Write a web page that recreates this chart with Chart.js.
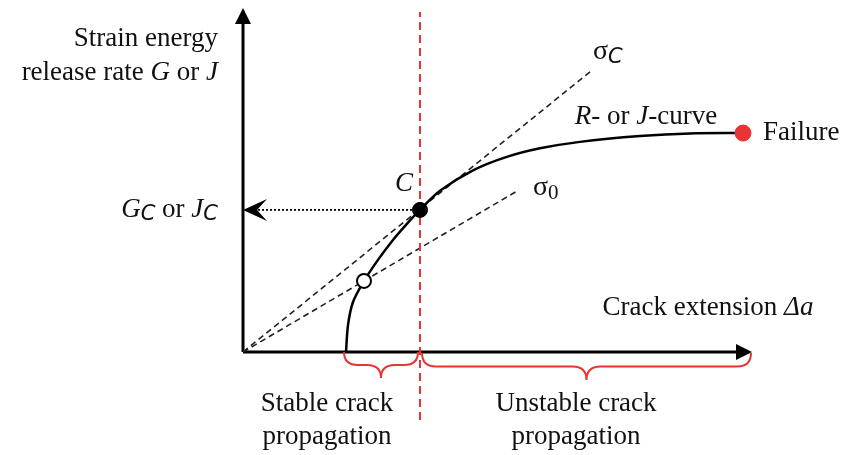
<!DOCTYPE html>
<html>
<head>
<meta charset="utf-8">
<script src="https://cdn.jsdelivr.net/npm/chart.js@4"></script>
<style>
html, body { margin: 0; padding: 0; background: #fff; }
#wrap { width: 846px; height: 455px; }
</style>
</head>
<body>
<div id="wrap"><canvas id="crackChart"></canvas></div>
<script>
// R-curve: crack extension (x) vs. G or J (y), arbitrary units
const curveX = [2.06, 2.10, 2.20, 2.42, 2.70, 2.98, 3.26, 3.54, 3.94, 4.60, 5.26, 5.94, 6.74, 7.94, 8.94, 10.0];
const curveY = [0, 0.79, 1.47, 2.09, 2.71, 3.26, 3.74, 4.18, 4.74, 5.34, 5.73, 5.99, 6.18, 6.35, 6.43, 6.44];

// special points
const critPoint = [3.54, 4.18];     // C
const startPoint = [2.42, 2.09];    // open circle on sigma_0 line
const failPoint = [10.0, 6.44];     // Failure

// load lines from origin
const sigmaCEnd = [7.0, 8.31];
const sigma0End = [5.5, 4.75];

// axis extents and boundary between stable / unstable
const xAxisEnd = 10.18;
const yAxisEnd = 10.12;
const critX = 3.54;
const critLineY = [-2.0, 10.0];

const red = 'rgb(232, 52, 52)';
const serif = '"Liberation Serif", "Times New Roman", serif';

function pts(xs, ys) {
    return xs.map((x, i) => ({ x: x, y: ys[i] }));
}

function richText(ctx, x, y, parts, align) {
    let w = 0;
    parts.forEach(p => { ctx.font = p.f; w += ctx.measureText(p.t).width; });
    let cx = align === 'right' ? x - w : (align === 'center' ? x - w / 2 : x);
    ctx.textBaseline = 'middle';
    ctx.textAlign = 'left';
    parts.forEach(p => {
        ctx.font = p.f;
        ctx.fillText(p.t, cx, y + (p.dy || 0));
        cx += ctx.measureText(p.t).width;
    });
}

function brace(ctx, x1, x2, y, h) {
    const xc = (x1 + x2) / 2;
    const m = h * 0.5;
    const q = Math.min(14, (x2 - x1) / 5);
    ctx.beginPath();
    ctx.moveTo(x1, y);
    ctx.quadraticCurveTo(x1, y + m, x1 + q, y + m);
    ctx.lineTo(xc - q, y + m);
    ctx.quadraticCurveTo(xc, y + m, xc, y + h);
    ctx.quadraticCurveTo(xc, y + m, xc + q, y + m);
    ctx.lineTo(x2 - q, y + m);
    ctx.quadraticCurveTo(x2, y + m, x2, y);
    ctx.stroke();
}

const main = '27px ' + serif;
const ital = 'italic 27px ' + serif;
const sub = 'italic 21px "DejaVu Sans", sans-serif';

const labels = [
    { x: -0.5, y: 9.22, align: 'right', parts: [{ t: 'Strain energy', f: main }] },
    { x: -0.5, y: 8.2, align: 'right', parts: [{ t: 'release rate ', f: main }, { t: 'G', f: ital }, { t: ' or ', f: main }, { t: 'J', f: ital }] },
    { x: -0.5, y: critPoint[1], align: 'right', parts: [{ t: 'G', f: ital }, { t: 'C', f: sub, dy: 5 }, { t: ' or ', f: main }, { t: 'J', f: ital }, { t: 'C', f: sub, dy: 5 }] },
    { x: 3.22, y: 4.94, align: 'center', parts: [{ t: 'C', f: ital }] },
    { x: 7.0, y: 8.82, align: 'left', parts: [{ t: 'σ', f: '28px ' + serif }, { t: 'C', f: sub, dy: 5 }] },
    { x: 5.8, y: 4.82, align: 'left', parts: [{ t: 'σ', f: '28px ' + serif }, { t: '0', f: '21px ' + serif, dy: 5 }] },
    { x: 8.06, y: 6.91, align: 'center', parts: [{ t: 'R', f: ital }, { t: '- or ', f: main }, { t: 'J', f: ital }, { t: '-curve', f: main }] },
    { x: 10.4, y: failPoint[1], align: 'left', parts: [{ t: 'Failure', f: main }] },
    { x: 9.3, y: 1.29, align: 'center', parts: [{ t: 'Crack extension ', f: main }, { t: 'Δa', f: ital }] },
    { x: 1.68, y: -1.53, align: 'center', parts: [{ t: 'Stable crack', f: main }] },
    { x: 1.68, y: -2.5, align: 'center', parts: [{ t: 'propagation', f: main }] },
    { x: 6.66, y: -1.53, align: 'center', parts: [{ t: 'Unstable crack', f: main }] },
    { x: 6.66, y: -2.5, align: 'center', parts: [{ t: 'propagation', f: main }] }
];

const decorPlugin = {
    id: 'decor',
    afterDatasetsDraw(chart) {
        const ctx = chart.ctx;
        const xs = chart.scales.x, ys = chart.scales.y;
        const px = v => xs.getPixelForValue(v), py = v => ys.getPixelForValue(v);
        ctx.save();
        ctx.fillStyle = '#000';

        // y axis arrow
        let tx = px(0), ty = py(yAxisEnd);
        ctx.beginPath();
        ctx.moveTo(tx, ty); ctx.lineTo(tx - 8, ty + 16); ctx.lineTo(tx + 8, ty + 16);
        ctx.closePath(); ctx.fill();

        // x axis arrow
        tx = px(xAxisEnd); ty = py(0);
        ctx.beginPath();
        ctx.moveTo(tx, ty); ctx.lineTo(tx - 16, ty - 8); ctx.lineTo(tx - 16, ty + 8);
        ctx.closePath(); ctx.fill();

        // arrow on G_C level
        tx = px(0); ty = py(critPoint[1]);
        ctx.beginPath();
        ctx.moveTo(tx, ty); ctx.lineTo(tx + 24, ty - 11); ctx.lineTo(tx + 14, ty);
        ctx.lineTo(tx + 24, ty + 11);
        ctx.closePath(); ctx.fill();

        // braces
        ctx.strokeStyle = red;
        ctx.lineWidth = 2;
        brace(ctx, px(curveX[0]) - 2, px(critX) - 2, py(0), 26);
        brace(ctx, px(critX) + 2, px(xAxisEnd) - 1, py(0) + 1, 27);

        // text
        ctx.fillStyle = '#111';
        labels.forEach(l => richText(ctx, px(l.x), py(l.y), l.parts, l.align));
        ctx.restore();
    }
};

const ctx = document.getElementById('crackChart').getContext('2d');
const crackChart = new Chart(ctx, {
    type: 'scatter',
    data: {
        datasets: [
            {
                label: 'C',
                data: [{ x: critPoint[0], y: critPoint[1] }],
                pointRadius: 7.5,
                backgroundColor: '#000',
                borderColor: '#000',
                clip: false,
                order: 0
            },
            {
                label: 'start',
                data: [{ x: startPoint[0], y: startPoint[1] }],
                pointRadius: 7,
                backgroundColor: '#fff',
                borderColor: '#000',
                borderWidth: 2,
                clip: false,
                order: 0
            },
            {
                label: 'Failure',
                data: [{ x: failPoint[0], y: failPoint[1] }],
                pointRadius: 8,
                backgroundColor: red,
                borderColor: red,
                clip: false,
                order: 0
            },
            {
                label: 'R-curve',
                data: pts(curveX, curveY),
                showLine: true,
                tension: 0.3,
                borderColor: '#000',
                borderWidth: 2.5,
                pointRadius: 0,
                clip: false,
                order: 1
            },
            {
                label: 'critical',
                data: [{ x: critX, y: critLineY[0] }, { x: critX, y: critLineY[1] }],
                showLine: true,
                borderColor: red,
                borderWidth: 2,
                borderDash: [8, 5],
                pointRadius: 0,
                clip: false,
                order: 2
            },
            {
                label: 'sigmaC',
                data: [{ x: 0, y: 0 }, { x: sigmaCEnd[0], y: sigmaCEnd[1] }],
                showLine: true,
                borderColor: '#222',
                borderWidth: 1.6,
                borderDash: [6, 4],
                pointRadius: 0,
                order: 3
            },
            {
                label: 'sigma0',
                data: [{ x: 0, y: 0 }, { x: sigma0End[0], y: sigma0End[1] }],
                showLine: true,
                borderColor: '#222',
                borderWidth: 1.6,
                borderDash: [6, 4],
                pointRadius: 0,
                order: 3
            },
            {
                label: 'Gc level',
                data: [{ x: 0.3, y: critPoint[1] }, { x: critPoint[0], y: critPoint[1] }],
                showLine: true,
                borderColor: '#000',
                borderWidth: 1.8,
                borderDash: [2, 2],
                pointRadius: 0,
                order: 3
            },
            {
                label: 'x axis',
                data: [{ x: 0, y: 0 }, { x: xAxisEnd - 0.2, y: 0 }],
                showLine: true,
                borderColor: '#000',
                borderWidth: 3,
                pointRadius: 0,
                clip: false,
                order: 4
            },
            {
                label: 'y axis',
                data: [{ x: 0, y: 0 }, { x: 0, y: yAxisEnd - 0.3 }],
                showLine: true,
                borderColor: '#000',
                borderWidth: 3,
                pointRadius: 0,
                clip: false,
                order: 4
            }
        ]
    },
    options: {
        responsive: true,
        maintainAspectRatio: false,
        animation: false,
        layout: {
            padding: { left: 243, right: 103, top: 12, bottom: 103 }
        },
        scales: {
            x: { type: 'linear', min: 0, max: 10, display: false },
            y: { type: 'linear', min: 0, max: 10, display: false }
        },
        plugins: {
            legend: { display: false },
            tooltip: { enabled: false }
        }
    },
    plugins: [decorPlugin]
});
</script>
</body>
</html>
